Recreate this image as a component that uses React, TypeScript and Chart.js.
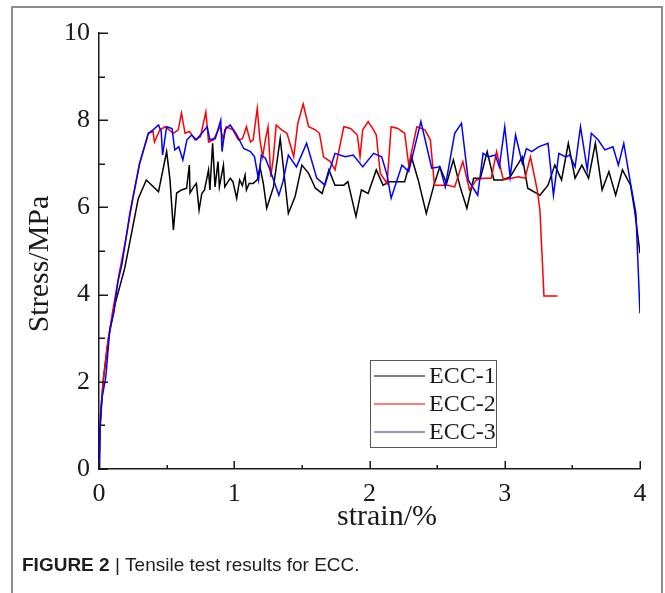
import { useEffect, useRef } from 'react';
import { Chart, registerables } from 'chart.js';

Chart.register(...registerables);

const seriesNames = ['ECC-1', 'ECC-2', 'ECC-3'];
const seriesColors = ['#000000', '#ff0000', '#0000ff'];
const legendColors = ['#000000', '#ff0000', '#2a2ab0'];

const xTitle = 'strain/%';
const yTitle = 'Stress/MPa';
const captionBold = 'FIGURE 2';
const captionText = ' | Tensile test results for ECC.';

const xTickValues = [0, 0.5, 1, 1.5, 2, 2.5, 3, 3.5, 4];
const xTickLabels = ['0', '', '1', '', '2', '', '3', '', '4'];
const yTickValues = [0, 1, 2, 3, 4, 5, 6, 7, 8, 9, 10];
const yTickLabels = ['0', '', '2', '', '4', '', '6', '', '8', '', '10'];

// [strain %, stress MPa]
const ecc1 = [
  [0, 0], [0.01, 1.0], [0.03, 2.0], [0.07, 3.0], [0.12, 3.8], [0.19, 4.6], [0.24, 5.4], [0.29, 6.2],
  [0.35, 6.63], [0.44, 6.36], [0.5, 7.28], [0.525, 6.63], [0.55, 5.48], [0.574, 6.33], [0.61, 6.4],
  [0.648, 6.44], [0.668, 6.97], [0.673, 6.33], [0.7, 6.47], [0.72, 6.55], [0.74, 5.94], [0.76, 6.32],
  [0.78, 6.4], [0.81, 6.86], [0.82, 6.4], [0.84, 7.47], [0.858, 6.47], [0.88, 7.05], [0.89, 6.47],
  [0.92, 6.97], [0.93, 6.47], [0.97, 6.67], [0.99, 6.59], [1.018, 6.21], [1.04, 6.63], [1.06, 6.5],
  [1.08, 6.74], [1.09, 6.4], [1.11, 6.55], [1.14, 6.55], [1.17, 6.63], [1.19, 6.93], [1.215, 6.55],
  [1.24, 5.98], [1.29, 6.47], [1.34, 7.58], [1.4, 5.86], [1.45, 6.25], [1.5, 6.97], [1.55, 6.78],
  [1.6, 6.44], [1.65, 6.32], [1.7, 6.86], [1.745, 6.51], [1.81, 6.51], [1.84, 6.59], [1.9, 5.79],
  [1.94, 6.4], [1.99, 6.32], [2.05, 6.86], [2.1, 6.51], [2.15, 6.59], [2.2, 6.59], [2.26, 6.59],
  [2.31, 7.16], [2.36, 6.63], [2.42, 5.86], [2.48, 6.55], [2.52, 6.93], [2.57, 6.55], [2.62, 7.09],
  [2.67, 6.47], [2.72, 5.98], [2.77, 6.67], [2.82, 6.67], [2.87, 7.28], [2.92, 6.63], [2.98, 6.63],
  [3.04, 6.7], [3.13, 7.16], [3.17, 6.44], [3.26, 6.28], [3.32, 6.51], [3.37, 6.97], [3.42, 6.63],
  [3.47, 7.47], [3.52, 6.67], [3.57, 6.97], [3.62, 6.67], [3.67, 7.47], [3.72, 6.4], [3.77, 6.82],
  [3.82, 6.28], [3.87, 6.86], [3.93, 6.51], [3.96, 5.94], [4.0, 4.95],
];

const ecc2 = [
  [0, 0], [0.01, 1.2], [0.03, 2.0], [0.06, 2.8], [0.1, 3.6], [0.15, 4.5], [0.2, 5.3], [0.25, 6.2],
  [0.3, 7.01], [0.365, 7.7], [0.4, 7.74], [0.41, 7.5], [0.45, 7.78], [0.49, 7.85], [0.55, 7.7],
  [0.586, 7.78], [0.61, 8.16], [0.636, 7.7], [0.67, 7.74], [0.71, 7.55], [0.75, 7.62], [0.79, 8.19],
  [0.81, 7.5], [0.845, 7.55], [0.895, 7.85], [0.92, 7.55], [0.94, 7.85], [0.99, 7.78], [1.03, 7.55],
  [1.06, 7.57], [1.09, 7.85], [1.12, 7.5], [1.14, 7.55], [1.17, 8.27], [1.19, 7.55], [1.21, 7.16],
  [1.23, 7.55], [1.25, 7.85], [1.27, 6.7], [1.29, 7.16], [1.31, 7.89], [1.35, 7.78], [1.39, 7.7],
  [1.44, 7.16], [1.47, 7.93], [1.51, 8.37], [1.55, 7.85], [1.6, 7.78], [1.63, 7.7], [1.66, 7.16],
  [1.71, 7.05], [1.745, 6.86], [1.81, 7.85], [1.86, 7.81], [1.91, 7.66], [1.93, 7.16], [1.95, 7.78],
  [1.99, 7.97], [2.03, 7.78], [2.05, 7.66], [2.08, 6.78], [2.13, 6.55], [2.16, 7.85], [2.21, 7.81],
  [2.26, 7.7], [2.29, 6.97], [2.35, 7.85], [2.41, 7.78], [2.45, 7.55], [2.48, 6.51], [2.53, 6.51],
  [2.58, 6.51], [2.63, 6.47], [2.69, 7.05], [2.74, 6.4], [2.79, 6.63], [2.84, 6.67], [2.9, 6.67],
  [2.94, 7.28], [2.99, 6.63], [3.05, 6.67], [3.1, 6.7], [3.15, 6.67], [3.19, 7.16], [3.24, 6.4],
  [3.26, 5.94], [3.29, 3.97], [3.39, 3.97],
];

const ecc3 = [
  [0, 0], [0.005, 0.9], [0.02, 1.6], [0.05, 2.1], [0.08, 3.2], [0.11, 3.6], [0.14, 4.3], [0.17, 4.7],
  [0.23, 5.9], [0.3, 7.0], [0.365, 7.7], [0.4, 7.78], [0.44, 7.89], [0.46, 7.74], [0.47, 7.2],
  [0.5, 7.85], [0.54, 7.81], [0.56, 7.32], [0.59, 7.39], [0.62, 7.09], [0.65, 7.55], [0.685, 7.66],
  [0.72, 7.55], [0.76, 7.7], [0.8, 7.85], [0.82, 7.55], [0.86, 7.58], [0.9, 8.0], [0.91, 7.28],
  [0.93, 7.78], [0.97, 7.89], [1.02, 7.66], [1.07, 7.35], [1.12, 7.28], [1.15, 7.16], [1.18, 6.63],
  [1.2, 7.2], [1.23, 7.13], [1.26, 6.9], [1.3, 6.55], [1.33, 6.28], [1.36, 6.59], [1.4, 7.2],
  [1.46, 6.93], [1.535, 7.47], [1.61, 6.67], [1.67, 6.51], [1.745, 7.24], [1.82, 7.16], [1.88, 7.2],
  [1.95, 6.93], [2.03, 7.24], [2.09, 7.16], [2.13, 6.74], [2.16, 6.21], [2.24, 6.97], [2.29, 6.82],
  [2.38, 7.97], [2.46, 6.9], [2.52, 6.93], [2.56, 6.47], [2.63, 7.7], [2.68, 7.93], [2.73, 6.63],
  [2.8, 6.28], [2.84, 7.24], [2.88, 7.16], [2.93, 7.2], [2.96, 6.93], [3.0, 7.85], [3.04, 6.7],
  [3.08, 7.66], [3.13, 7.01], [3.16, 7.35], [3.2, 7.28], [3.25, 7.39], [3.32, 7.47], [3.36, 6.28],
  [3.4, 7.24], [3.45, 7.16], [3.48, 7.2], [3.52, 6.93], [3.56, 7.85], [3.61, 6.86], [3.64, 7.7],
  [3.69, 7.55], [3.74, 7.32], [3.8, 7.39], [3.84, 6.97], [3.88, 7.47], [3.93, 6.55], [3.97, 5.86],
  [4.0, 3.57],
];

const seriesData = [ecc1, ecc2, ecc3];

const SERIF = '"Liberation Serif", "Times New Roman", serif';
const SANS = '"Liberation Sans", Arial, sans-serif';

const decor = {
  id: 'decor',
  beforeDraw(chart: any) {
    const ctx = chart.ctx;
    ctx.save();
    ctx.fillStyle = '#ffffff';
    ctx.fillRect(0, 0, chart.width, chart.height);
    ctx.restore();
  },
  afterDraw(chart: any) {
    const ctx = chart.ctx;
    const area = chart.chartArea;
    const xs = chart.scales.x;
    const ys = chart.scales.y;
    ctx.save();

    // tick marks (inward)
    ctx.strokeStyle = '#1a1a1a';
    ctx.lineWidth = 1.5;
    ctx.beginPath();
    xTickValues.forEach((v, i) => {
      const px = Math.round(xs.getPixelForValue(v)) + 0.25;
      const len = xTickLabels[i] ? 8 : 4;
      ctx.moveTo(px, area.bottom);
      ctx.lineTo(px, area.bottom - len);
    });
    yTickValues.forEach((v, i) => {
      const py = Math.round(ys.getPixelForValue(v)) + 0.25;
      const len = yTickLabels[i] ? 9 : 6;
      ctx.moveTo(area.left, py);
      ctx.lineTo(area.left + len, py);
    });
    ctx.stroke();

    // axis titles
    ctx.fillStyle = '#1a1a1a';
    ctx.font = `30px ${SERIF}`;
    ctx.textAlign = 'center';
    ctx.textBaseline = 'middle';
    ctx.fillText(xTitle, 387, 517);
    ctx.save();
    ctx.translate(40, 264);
    ctx.rotate(-Math.PI / 2);
    ctx.fillText(yTitle, 0, 0);
    ctx.restore();

    // legend
    ctx.strokeStyle = '#555555';
    ctx.lineWidth = 1;
    ctx.strokeRect(370.5, 360.5, 126, 87);
    ctx.font = `24px ${SERIF}`;
    ctx.textAlign = 'left';
    chart.data.datasets.forEach((ds: any, i: number) => {
      const yy = 376 + i * 28;
      ctx.strokeStyle = legendColors[i];
      ctx.lineWidth = 1.2;
      ctx.beginPath();
      ctx.moveTo(374, yy);
      ctx.lineTo(425, yy);
      ctx.stroke();
      ctx.fillStyle = '#1a1a1a';
      ctx.fillText(ds.label, 429, yy + 1);
    });

    // frame
    ctx.strokeStyle = '#8c8c8c';
    ctx.lineWidth = 2;
    ctx.beginPath();
    ctx.moveTo(12, 600);
    ctx.lineTo(12, 7);
    ctx.lineTo(662, 7);
    ctx.lineTo(662, 600);
    ctx.stroke();

    // caption
    ctx.fillStyle = '#1e1e1e';
    ctx.textBaseline = 'alphabetic';
    ctx.font = `bold 19px ${SANS}`;
    ctx.fillText(captionBold, 22, 571);
    const w = ctx.measureText(captionBold).width;
    ctx.font = `19px ${SANS}`;
    ctx.fillText(captionText, 22 + w, 571);

    ctx.restore();
  },
};

export default function App() {
  const ref = useRef<HTMLCanvasElement>(null);
  useEffect(() => {
    if (!ref.current) return;
    const chart = new Chart(ref.current, {
      type: 'line',
      data: {
        datasets: seriesNames.map((name, i) => ({
          label: name,
          data: seriesData[i].map(([x, y]) => ({ x, y })),
          borderColor: seriesColors[i],
          backgroundColor: seriesColors[i],
          borderWidth: 1.5,
          pointRadius: 0,
          tension: 0,
          fill: false,
          order: 2 - i,
        })),
      },
      options: {
        responsive: false,
        animation: false,
        devicePixelRatio: 1,
        layout: { padding: { left: 0, top: 33, right: 25, bottom: 0 } },
        plugins: { legend: { display: false }, tooltip: { enabled: false } },
        scales: {
          x: {
            type: 'linear',
            min: 0,
            max: 4,
            afterBuildTicks: (s: any) => {
              s.ticks = xTickValues.map((v) => ({ value: v }));
            },
            afterFit: (s: any) => {
              s.height = 124;
            },
            ticks: {
              autoSkip: false,
              maxRotation: 0,
              padding: 10,
              color: '#1a1a1a',
              font: { family: SERIF, size: 26 },
              callback: (_v: any, i: number) => xTickLabels[i],
            },
            grid: { display: false, drawTicks: false },
            border: { display: true, color: '#1a1a1a', width: 1.5 },
          },
          y: {
            type: 'linear',
            min: 0,
            max: 10,
            afterBuildTicks: (s: any) => {
              s.ticks = yTickValues.map((v) => ({ value: v }));
            },
            afterFit: (s: any) => {
              s.width = 99;
            },
            ticks: {
              autoSkip: false,
              padding: 9,
              color: '#1a1a1a',
              font: { family: SERIF, size: 26 },
              callback: (_v: any, i: number) => yTickLabels[i],
            },
            grid: { display: false, drawTicks: false },
            border: { display: true, color: '#1a1a1a', width: 1.5 },
          },
        },
      },
      plugins: [decor],
    } as any);
    return () => chart.destroy();
  }, []);
  return (
    <div style={{ position: 'fixed', left: 0, top: 0, width: 665, height: 593, background: '#fff' }}>
      <canvas ref={ref} width={665} height={593} style={{ display: 'block', width: 665, height: 593 }} />
    </div>
  );
}
